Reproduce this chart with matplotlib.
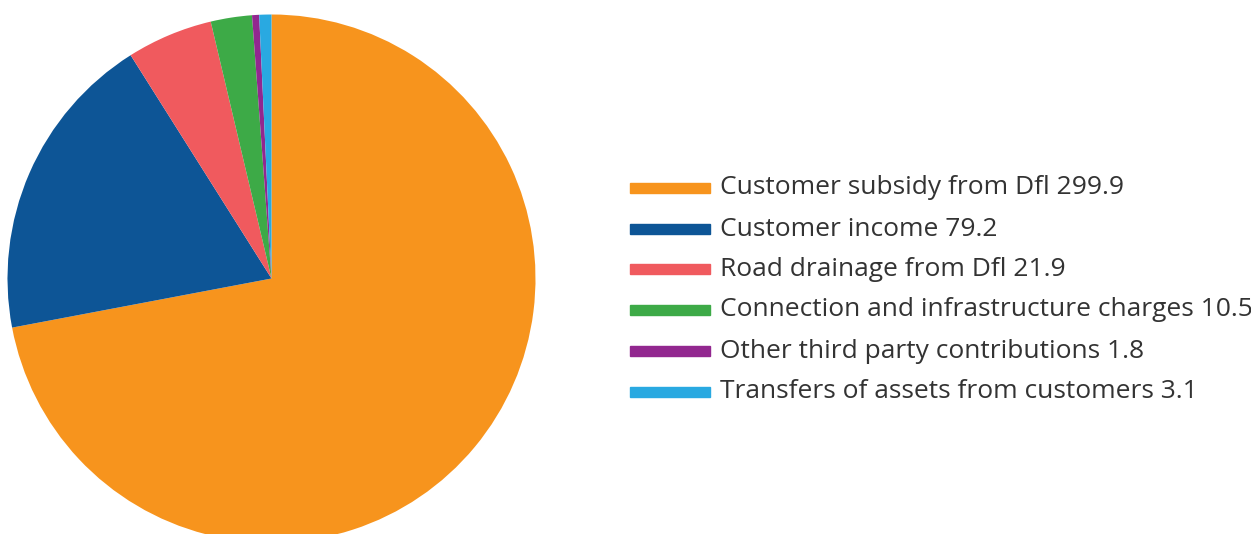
import matplotlib.pyplot as plt
from matplotlib.patches import Rectangle

# sources of income (GBP m)
names = ['Customer subsidy from Dfl', 'Customer income', 'Road drainage from Dfl',
         'Connection and infrastructure charges', 'Other third party contributions',
         'Transfers of assets from customers']
values = [299.9, 79.2, 21.9, 10.5, 1.8, 3.1]
colors = ['#F7941D', '#0D5596', '#F05A5E', '#3DAA47', '#92278F', '#29A9E1']

W, H = 1251, 534
fig = plt.figure(figsize=(W / 100, H / 100), dpi=100)

# pie axes, centre ~(271, 278) px from top-left, radius ~264 px
r = 264
cx, cy = 271.5, H - 278.5
ax = fig.add_axes([(cx - r) / W, (cy - r) / H, 2 * r / W, 2 * r / H])
ax.pie(values, colors=colors, startangle=90, counterclock=False,
       wedgeprops=dict(linewidth=0))
ax.set_xlim(-1, 1)
ax.set_ylim(-1, 1)
ax.set_aspect('equal')
ax.axis('off')

# legend drawn by hand
row_y = [188, 229, 269, 310, 351, 392]
for name, val, col, y in zip(names, values, colors, row_y):
    fig.patches.append(Rectangle(((630) / W, (H - y - 5) / H), 80 / W, 10 / H,
                                 transform=fig.transFigure, color=col))
    fig.text(720 / W, (H - y) / H, f'{name} {val}', fontsize=19,
             family='Open Sans', color='#333333', va='center', ha='left')

fig.savefig('out.png', dpi=100)
